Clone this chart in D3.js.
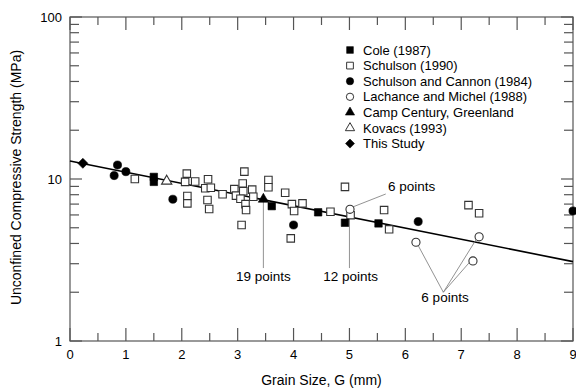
<!DOCTYPE html>
<html>
<head>
<meta charset="utf-8">
<script src="https://cdn.jsdelivr.net/npm/d3@7"></script>
<style>
  html, body { margin: 0; padding: 0; background: #fff; }
  svg { display: block; font-family: "Liberation Sans", Arial, Helvetica, sans-serif; }
</style>
</head>
<body>
<svg id="chart" width="576" height="390"></svg>
<script>
// grain size (mm) vs unconfined compressive strength (MPa)
const cole = [[1.5, 10.3], [1.5, 9.6], [3.61, 6.8], [4.44, 6.23], [4.92, 5.37], [5.52, 5.32]];
const schulson = [
  [1.16, 10.0], [2.09, 10.8], [2.06, 9.6], [2.24, 9.65], [2.1, 7.86], [2.1, 7.07],
  [2.47, 9.96], [2.42, 8.77], [2.52, 8.83], [2.46, 7.42], [2.49, 6.53], [2.73, 8.05],
  [3.12, 11.1], [3.09, 9.39], [2.94, 8.66], [2.97, 7.9], [3.1, 8.4], [3.26, 8.6],
  [3.28, 7.77], [3.05, 7.55], [3.14, 7.0], [3.15, 6.43], [3.07, 5.2], [3.55, 9.86],
  [3.55, 8.89], [3.85, 8.22], [3.97, 7.0], [4.16, 7.07], [4.01, 6.35], [3.95, 4.3],
  [4.66, 6.28], [4.92, 8.94], [5.02, 5.98], [5.62, 6.43], [5.71, 4.89], [7.13, 6.9],
  [7.32, 6.15]
];
const schulsonCannon = [[0.85, 12.2], [0.79, 10.5], [1.0, 11.1], [1.84, 7.5], [4.0, 5.2], [6.23, 5.46], [9.0, 6.35]];
const lachance = [[5.01, 6.5], [6.19, 4.07], [7.32, 4.4], [7.21, 3.12]];
const campCentury = [[3.46, 7.5]];
const kovacs = [[1.73, 9.7]];
const thisStudy = [[0.23, 12.5]];

const fitX = [0, 9];
const fitY = [12.9, 3.09];

const xTicks = [0, 1, 2, 3, 4, 5, 6, 7, 8, 9];
const yTicks = [1, 10, 100];

const series = [
  { name: 'Cole (1987)', data: cole, shape: 'square', fill: true },
  { name: 'Schulson (1990)', data: schulson, shape: 'square', fill: false },
  { name: 'Schulson and Cannon (1984)', data: schulsonCannon, shape: 'circle', fill: true },
  { name: 'Lachance and Michel (1988)', data: lachance, shape: 'circle', fill: false },
  { name: 'Camp Century, Greenland', data: campCentury, shape: 'triangle', fill: true },
  { name: 'Kovacs (1993)', data: kovacs, shape: 'triangle', fill: false },
  { name: 'This Study', data: thisStudy, shape: 'diamond', fill: true }
];

// annotations: label, label position, leader lines (from -> to)
const notes = [
  { text: '19 points', at: [3.46, 2.35], from: [[3.46, 2.82]], to: [[3.46, 7.4]] },
  { text: '12 points', at: [5.02, 2.35], from: [[5.0, 2.82]], to: [[5.0, 5.9]] },
  { text: '6 points', at: [5.69, 8.43], from: [[5.65, 8.08]], to: [[5.06, 6.72]], anchor: 'start' },
  { text: '6 points', at: [6.71, 1.74], from: [[6.68, 2.0], [6.68, 2.0], [6.68, 2.0]],
    to: [[6.21, 4.0], [7.28, 4.3], [7.18, 3.15]] }
];

const margin = { top: 17, right: 3, bottom: 49, left: 70 };
const width = 576, height = 390;

const svg = d3.select('#chart');

const x = d3.scaleLinear().domain([0, 9]).range([margin.left, width - margin.right]);
const y = d3.scaleLog().domain([1, 100]).range([height - margin.bottom, margin.top]);

const axisColor = '#555';
const minorX = d3.range(0.5, 9, 1);
const minorY = [2, 3, 4, 5, 6, 7, 8, 9, 20, 30, 40, 50, 60, 70, 80, 90];

// frame
svg.append('rect')
  .attr('x', x(0)).attr('y', y(100))
  .attr('width', x(9) - x(0)).attr('height', y(1) - y(100))
  .attr('fill', 'none').attr('stroke', axisColor).attr('stroke-width', 1.2);

// ticks, all pointing inwards
const tickG = svg.append('g').attr('stroke', axisColor).attr('stroke-width', 1.2);
function xTick(v, len) {
  tickG.append('line').attr('x1', x(v)).attr('x2', x(v)).attr('y1', y(1)).attr('y2', y(1) - len);
  tickG.append('line').attr('x1', x(v)).attr('x2', x(v)).attr('y1', y(100)).attr('y2', y(100) + len);
}
function yTick(v, len) {
  tickG.append('line').attr('y1', y(v)).attr('y2', y(v)).attr('x1', x(0)).attr('x2', x(0) + len);
  tickG.append('line').attr('y1', y(v)).attr('y2', y(v)).attr('x1', x(9)).attr('x2', x(9) - len);
}
xTicks.forEach(v => xTick(v, 13));
minorX.forEach(v => xTick(v, 8));
yTicks.forEach(v => yTick(v, 12));
minorY.forEach(v => yTick(v, 9));

svg.append('g')
  .selectAll('text')
  .data(xTicks)
  .join('text')
  .attr('x', d => x(d))
  .attr('y', y(1) + 18)
  .attr('text-anchor', 'middle')
  .style('font-size', '13px')
  .text(d => d);

svg.append('g')
  .selectAll('text')
  .data(yTicks)
  .join('text')
  .attr('x', x(0) - 8)
  .attr('y', d => y(d))
  .attr('dy', '0.35em')
  .attr('text-anchor', 'end')
  .style('font-size', '13px')
  .text(d => d);

svg.append('text')
  .attr('x', (x(0) + x(9)) / 2)
  .attr('y', 385)
  .attr('text-anchor', 'middle')
  .style('font-size', '14px')
  .text('Grain Size, G (mm)');

svg.append('text')
  .attr('transform', `translate(21,177.5) rotate(-90)`)
  .attr('text-anchor', 'middle')
  .style('font-size', '14px')
  .text('Unconfined Compressive Strength (MPa)');

// regression line
svg.append('line')
  .attr('x1', x(fitX[0])).attr('y1', y(fitY[0]))
  .attr('x2', x(fitX[1])).attr('y2', y(fitY[1]))
  .attr('stroke', '#000').attr('stroke-width', 1.6);

// annotations
const noteG = svg.append('g');
notes.forEach(n => {
  n.to.forEach((t, i) => {
    const f = n.from[i];
    noteG.append('line')
      .attr('x1', x(f[0])).attr('y1', y(f[1]))
      .attr('x2', x(t[0])).attr('y2', y(t[1]))
      .attr('stroke', '#777').attr('stroke-width', 0.8);
  });
  noteG.append('text')
    .attr('x', x(n.at[0])).attr('y', y(n.at[1]))
    .attr('text-anchor', n.anchor || 'middle')
    .style('font-size', '13.5px')
    .text(n.text);
});

const symbols = {
  square: d3.symbolSquare,
  circle: d3.symbolCircle,
  triangle: d3.symbolTriangle,
  diamond: d3.symbolSquare
};
const sizes = { square: 56, circle: 52, triangle: 46, diamond: 50 };

function marker(g, s) {
  const p = g.append('path')
    .attr('d', d3.symbol(symbols[s.shape], sizes[s.shape])());
  if (s.fill) p.attr('fill', '#000').attr('stroke', '#000').attr('stroke-width', 0.6);
  else p.attr('fill', '#fff').attr('stroke', '#333').attr('stroke-width', 1.1);
  if (s.shape === 'diamond') p.attr('transform', 'rotate(45)');
  return p;
}

// points; open squares first so the filled marks sit on top
const order = [1, 3, 0, 2, 4, 5, 6];
order.forEach(i => {
  const s = series[i];
  svg.append('g')
    .selectAll('g')
    .data(s.data)
    .join('g')
    .attr('transform', d => `translate(${x(d[0])},${y(d[1])})`)
    .each(function () { marker(d3.select(this), s); });
});

// legend
const legend = svg.append('g').attr('transform', 'translate(350,50)');
const item = legend.selectAll('g')
  .data(series)
  .join('g')
  .attr('transform', (_, i) => `translate(0,${i * 15.6})`);
item.each(function (s) {
  const g = d3.select(this).append('g').attr('transform', 'scale(0.9)');
  marker(g, s);
});
item.append('text')
  .attr('x', 13)
  .attr('dy', '0.36em')
  .style('font-size', '13px')
  .text(d => d.name);
</script>
</body>
</html>
